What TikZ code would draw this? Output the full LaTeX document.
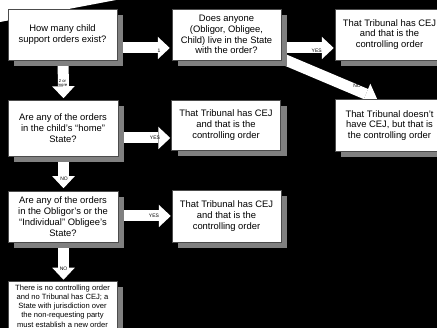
\documentclass[tikz,border=0pt]{standalone}
\usepackage{fontspec}
\setmainfont{Liberation Sans}
\usetikzlibrary{arrows.meta,shadows}
\definecolor{shd}{RGB}{128,128,128}
\pgfdeclarelayer{bg}
\pgfsetlayers{bg,main}
\begin{document}
\begin{tikzpicture}[x=1pt,y=-1pt,
  box/.style={draw=black!70, line width=0.5pt, fill=white, minimum width=109pt, minimum height=51pt, inner sep=1pt, align=center, font=\fontsize{9.4}{10.8}\selectfont, drop shadow={shadow xshift=6pt, shadow yshift=-6pt, fill=shd, draw=none, opacity=1}},
  blk/.style={white, line width=11pt, -{Triangle[width=22.5pt 0, length=12pt 0, line width=0pt 0]}},
  lbl/.style={inner sep=0pt, font=\fontsize{5}{5}\selectfont, text=black},
  tiny/.style={inner sep=0pt, align=center, font=\fontsize{4.2}{4.5}\selectfont, text=black}]
\useasboundingbox (0,0) rectangle (437,328);
\clip (0,0) rectangle (437,328);

% boxes
\node[box] (A) at (62.5,34.5) {How many child\\support orders exist?};
\node[box] (B) at (226.5,34.5) {Does anyone\\(Obligor, Obligee,\\Child) live in the State\\with the order?};
\node[box] (C) at (389.5,34.5) {That Tribunal has CEJ\\and that is the\\controlling order};
\node[box, minimum height=52pt] (D) at (389.5,125.5) {That Tribunal doesn’t\\have CEJ, but that is\\the controlling order};
\node[box, minimum width=110pt, minimum height=56pt] (E) at (63,128) {Are any of the orders\\in the child’s “home”\\State?};
\node[box, minimum height=50pt] (F) at (226,125) {That Tribunal has CEJ\\and that is the\\controlling order};
\node[box, minimum width=110pt] (G) at (63,216.5) {Are any of the orders\\in the Obligor’s or the\\“Individual” Obligee’s\\State?};
\node[box, minimum height=52pt] (H) at (226.5,216) {That Tribunal has CEJ\\and that is the\\controlling order};
\node[box, minimum height=50pt, font=\fontsize{7.6}{9.2}\selectfont] (I) at (62.5,306) {There is no controlling order\\and no Tribunal has CEJ; a\\State with jurisdiction over\\the non-requesting party\\must establish a new order};

\begin{pgfonlayer}{bg}
  \fill[black] (0,0) rectangle (437,328);
  \fill[white] (0,0) -- (116,0) -- (0,22) -- cycle;
  % connectors
  \draw[blk] ([xshift=-10pt,yshift=-13.5pt]A.east) -- ([xshift=-2pt,yshift=-13.5pt]B.west);
  \draw[blk] ([xshift=-10pt,yshift=-13.5pt]B.east) -- ([xshift=-1pt,yshift=-13.5pt]C.west);
  \draw[blk] ([xshift=-6pt,yshift=4.5pt]B.south east) -- ([xshift=-12.5pt,yshift=0.5pt]D.north);
  \draw[blk] ([xshift=0.5pt,yshift=10pt]A.south) -- ([xshift=0.5pt,yshift=1.5pt]E.north);
  \draw[blk] ([xshift=-10pt,yshift=-10pt]E.east) -- ([xshift=-1pt,yshift=-13pt]F.west);
  \draw[blk] ([xshift=0.5pt,yshift=10pt]E.south) -- ([xshift=0.5pt,yshift=2.5pt]G.north);
  \draw[blk] ([xshift=-10pt,yshift=0.5pt]G.east) -- ([xshift=-1pt]H.west);
  \draw[blk] ([xshift=0.5pt,yshift=10pt]G.south) -- ([xshift=1pt,yshift=1pt]I.north);
\end{pgfonlayer}

% labels
\node[lbl] (l1) at (159,50.7) {1};
\node[lbl] (l2) at (316.7,50.7) {YES};
\node[lbl] (l3) at (357,86) {NO};
\node[tiny] (l4) at (62.5,83) {2 or\\more};
\node[lbl] (l5) at (155,137.7) {YES};
\node[lbl] (l6) at (64,178.3) {NO};
\node[lbl] (l7) at (154,216) {YES};
\node[lbl] (l8) at (63.5,268.3) {NO};
\end{tikzpicture}
\end{document}
